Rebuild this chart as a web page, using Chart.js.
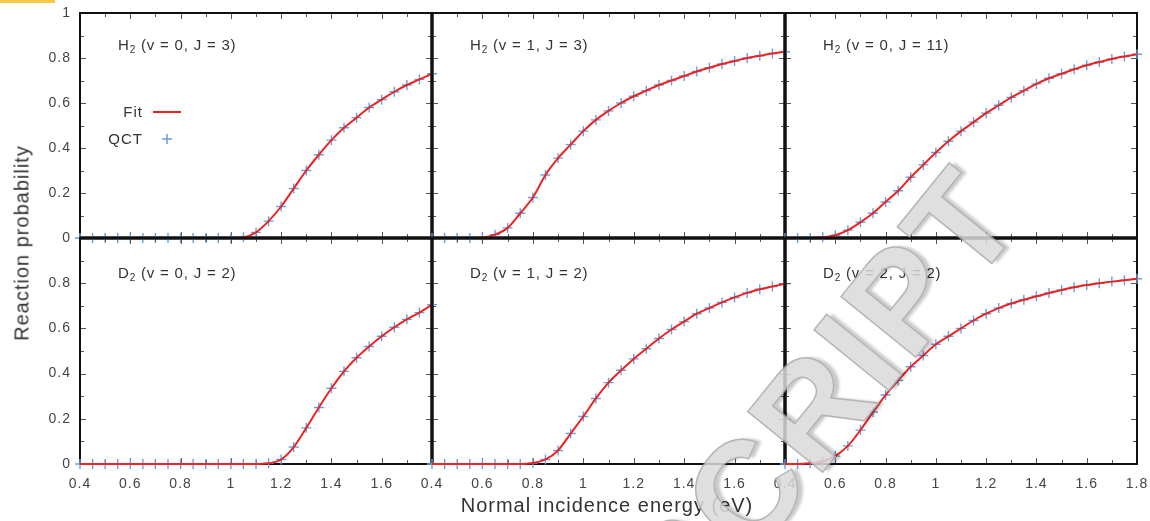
<!DOCTYPE html>
<html>
<head>
<meta charset="utf-8">
<title>Reaction probability</title>
<script src="https://cdn.jsdelivr.net/npm/chart.js@4.4.1/dist/chart.umd.min.js"></script>
<style>
  html, body { margin: 0; padding: 0; background: #fff; }
  #wrap { position: relative; width: 1150px; height: 521px; overflow: hidden; font-family: "Liberation Sans", Arial, sans-serif; }
  #wrap canvas { position: absolute; left: 0; top: 0; }
  .lbl { position: absolute; font-size: 15px; letter-spacing: 0.8px; color: #333; line-height: 16px; white-space: nowrap; }
  .lbl sub { font-size: 10px; vertical-align: -3px; line-height: 0; }
  .leg { position: absolute; font-size: 15px; letter-spacing: 1px; color: #333; line-height: 16px; text-align: right; width: 60px; }
  .title { position: absolute; font-size: 20px; letter-spacing: 1px; color: #333; white-space: nowrap; transform: translate(-50%, -50%); }
  #ytitle { left: 22px; top: 243px; transform: translate(-50%, -50%) rotate(-90deg); }
  #xtitle { left: 607px; top: 505px; }
  #bar { position: absolute; left: 0; top: 0; width: 55px; height: 3px; background: #f5c846; }
  #mark { position: absolute; right: 160px; top: 114px; height: 150px; line-height: 150px;
          font-size: 140px; font-weight: bold; letter-spacing: 4px; white-space: nowrap; color: #dadada;
          -webkit-text-stroke: 1.5px #a9a9a9; text-shadow: 4px 4px 3px rgba(0,0,0,0.25);
          transform-origin: 100% 50%; transform: rotate(-51deg); opacity: 0.85; }
</style>
</head>
<body>
<div id="wrap">
  <div id="bar"></div>
</div>
<script>
// --- dados ---
const energies = [0.4, 0.45, 0.5, 0.55, 0.6, 0.65, 0.7, 0.75, 0.8, 0.85, 0.9, 0.95, 1.0, 1.05, 1.1,
                  1.15, 1.2, 1.25, 1.3, 1.35, 1.4, 1.45, 1.5, 1.55, 1.6, 1.65, 1.7, 1.75, 1.8];

const h2_v0_J3  = [0, 0, 0, 0, 0, 0, 0, 0, 0, 0, 0, 0, 0, 0.003, 0.025, 0.075, 0.14, 0.22, 0.30, 0.37,
                   0.435, 0.49, 0.535, 0.58, 0.615, 0.65, 0.68, 0.705, 0.73];
const h2_v1_J3  = [0, 0, 0, 0, 0.002, 0.015, 0.045, 0.11, 0.18, 0.28, 0.355, 0.415, 0.475, 0.525, 0.565,
                   0.60, 0.63, 0.655, 0.68, 0.70, 0.72, 0.74, 0.757, 0.773, 0.787, 0.80, 0.81, 0.82, 0.828];
const h2_v0_J11 = [0, 0, 0, 0.003, 0.012, 0.035, 0.07, 0.11, 0.16, 0.21, 0.27, 0.325, 0.38, 0.43, 0.475,
                   0.515, 0.555, 0.59, 0.625, 0.655, 0.685, 0.71, 0.73, 0.75, 0.768, 0.782, 0.796, 0.807, 0.817];
const d2_v0_J2  = [0, 0, 0, 0, 0, 0, 0, 0, 0, 0, 0, 0, 0, 0, 0, 0.003, 0.02, 0.075, 0.16, 0.25,
                   0.335, 0.41, 0.47, 0.52, 0.565, 0.605, 0.64, 0.67, 0.705];
const d2_v1_J2  = [0, 0, 0, 0, 0, 0, 0, 0, 0.004, 0.02, 0.06, 0.135, 0.21, 0.29, 0.36,
                   0.415, 0.465, 0.51, 0.555, 0.595, 0.63, 0.665, 0.69, 0.715, 0.737, 0.757, 0.773, 0.785, 0.797];
const d2_v2_J2  = [0, 0, 0.003, 0.012, 0.035, 0.08, 0.15, 0.23, 0.305, 0.37, 0.43, 0.48, 0.53, 0.565, 0.60,
                   0.635, 0.665, 0.69, 0.71, 0.727, 0.742, 0.757, 0.77, 0.782, 0.792, 0.80, 0.807, 0.813, 0.82];

const panelSeries = [h2_v0_J3, h2_v1_J3, h2_v0_J11, d2_v0_J2, d2_v1_J2, d2_v2_J2];
const panelMolecule = ['H', 'H', 'H', 'D', 'D', 'D'];
const panelState = ['(v = 0, J = 3)', '(v = 1, J = 3)', '(v = 0, J = 11)',
                    '(v = 0, J = 2)', '(v = 1, J = 2)', '(v = 2, J = 2)'];

const xTicks = [0.4, 0.6, 0.8, 1.0, 1.2, 1.4, 1.6, 1.8];
const xMinor = [0.5, 0.7, 0.9, 1.1, 1.3, 1.5, 1.7];
const yTicks = [0, 0.2, 0.4, 0.6, 0.8, 1];
const yMinor = [0.1, 0.3, 0.5, 0.7, 0.9];

// --- layout ---
const W = 1150, H = 521;
const colEdges = [80, 432, 785, 1137];
const rowEdges = [13, 238, 464];
const fitColor = 'rgb(238, 34, 34)';
const qctColor = 'rgb(100, 162, 222)';
const family = '"Liberation Sans", Arial, sans-serif';

const fmt = v => String(Number(v.toFixed(1)));

const framePlugin = {
  id: 'frame',
  beforeDraw(chart) {
    chart.ctx.letterSpacing = '1px';
  },
  beforeDatasetsDraw(chart, args, opts) {
    const { ctx, chartArea: a, scales: { x, y } } = chart;
    ctx.save();
    ctx.strokeStyle = '#555';
    ctx.lineWidth = 1;
    ctx.beginPath();
    xTicks.concat(xMinor).forEach(v => {
      const px = Math.round(x.getPixelForValue(v)) + 0.5;
      const len = xTicks.includes(v) ? 6 : 4;
      ctx.moveTo(px, a.bottom); ctx.lineTo(px, a.bottom - len);
      ctx.moveTo(px, a.top); ctx.lineTo(px, a.top + len);
    });
    yTicks.concat(yMinor).forEach(v => {
      const py = Math.round(y.getPixelForValue(v)) + 0.5;
      const len = yTicks.includes(v) ? 6 : 4;
      ctx.moveTo(a.left, py); ctx.lineTo(a.left + len, py);
      ctx.moveTo(a.right, py); ctx.lineTo(a.right - len, py);
    });
    ctx.stroke();

    // borda do painel (mais grossa onde os painéis se encostam)
    ctx.strokeStyle = '#111';
    const edge = (x1, y1, x2, y2, w) => {
      ctx.lineWidth = w;
      ctx.beginPath(); ctx.moveTo(x1, y1); ctx.lineTo(x2, y2); ctx.stroke();
    };
    const { row, col } = opts;
    edge(a.left, a.top, a.right, a.top, row > 0 ? 3 : 2);
    edge(a.left, a.bottom, a.right, a.bottom, row < 1 ? 3 : 2);
    edge(a.left, a.top - 1, a.left, a.bottom + 1, col > 0 ? 3 : 2);
    edge(a.right, a.top - 1, a.right, a.bottom + 1, col < 2 ? 3 : 2);

    // amostras da legenda (só no primeiro painel)
    if (opts.legend) {
      ctx.strokeStyle = fitColor;
      edge(153, 112, 181, 112, 2);
      ctx.strokeStyle = qctColor;
      ctx.lineWidth = 1.5;
      ctx.beginPath();
      ctx.moveTo(162, 139); ctx.lineTo(172, 139);
      ctx.moveTo(167, 134); ctx.lineTo(167, 144);
      ctx.stroke();
    }
    ctx.restore();
  }
};

const wrap = document.getElementById('wrap');

panelSeries.forEach((series, idx) => {
  const row = Math.floor(idx / 3), col = idx % 3;
  const L = colEdges[col], R = colEdges[col + 1], T = rowEdges[row], B = rowEdges[row + 1];
  const yw = col === 0 ? 45 : 0;
  const xh = row === 1 ? 30 : 0;
  const pts = energies.map((e, i) => ({ x: e, y: series[i] }));

  const canvas = document.createElement('canvas');
  canvas.width = W; canvas.height = H;
  canvas.style.width = W + 'px'; canvas.style.height = H + 'px';
  wrap.appendChild(canvas);

  new Chart(canvas, {
    type: 'line',
    data: {
      datasets: [
        { label: 'Fit', data: pts, borderColor: fitColor, borderWidth: 2, pointRadius: 0,
          cubicInterpolationMode: 'monotone', order: 0, clip: false },
        { label: 'QCT', data: pts, showLine: false, pointStyle: 'cross', pointRadius: 5,
          pointBorderColor: qctColor, pointBorderWidth: 1.4, order: 1, clip: false }
      ]
    },
    options: {
      responsive: false,
      animation: false,
      devicePixelRatio: 1,
      events: [],
      layout: { padding: { left: L - yw, right: W - R, top: T, bottom: H - B - xh } },
      plugins: {
        legend: { display: false },
        tooltip: { enabled: false },
        frame: { row, col, legend: idx === 0 }
      },
      scales: {
        x: {
          type: 'linear', min: 0.4, max: 1.8,
          afterFit: s => { s.height = xh; s.paddingLeft = 0; s.paddingRight = 0; },
          grid: { display: false, drawTicks: false },
          border: { display: false },
          ticks: {
            display: row === 1, stepSize: 0.2, autoSkip: false, maxRotation: 0, padding: 12,
            color: '#444', font: { size: 14, family },
            callback: v => (col < 2 && v > 1.79) ? '' : fmt(v)
          }
        },
        y: {
          min: 0, max: 1,
          afterFit: s => { s.width = yw; s.paddingTop = 0; s.paddingBottom = 0; },
          grid: { display: false, drawTicks: false },
          border: { display: false },
          ticks: {
            display: col === 0, stepSize: 0.2, padding: 9,
            color: '#444', font: { size: 14, family },
            callback: v => (row === 1 && v > 0.99) ? '' : fmt(v)
          }
        }
      }
    },
    plugins: [framePlugin]
  });

  const lbl = document.createElement('div');
  lbl.className = 'lbl';
  lbl.style.left = (L + 38) + 'px';
  lbl.style.top = (T + (row === 0 ? 24 : 27)) + 'px';
  lbl.innerHTML = panelMolecule[idx] + '<sub>2</sub> ' + panelState[idx];
  wrap.appendChild(lbl);
});

// legenda e títulos dos eixos
const addText = (cls, id, text, style) => {
  const d = document.createElement('div');
  d.className = cls;
  if (id) d.id = id;
  d.textContent = text;
  Object.assign(d.style, style || {});
  wrap.appendChild(d);
};
addText('leg', null, 'Fit', { left: '83px', top: '104px' });
addText('leg', null, 'QCT', { left: '83px', top: '131px' });
addText('title', 'ytitle', 'Reaction probability');
addText('title', 'xtitle', 'Normal incidence energy (eV)');
// marca d'água da versão aceita do artigo
addText('', 'mark', 'ACCEPTED MANUSCRIPT');
</script>
</body>
</html>
